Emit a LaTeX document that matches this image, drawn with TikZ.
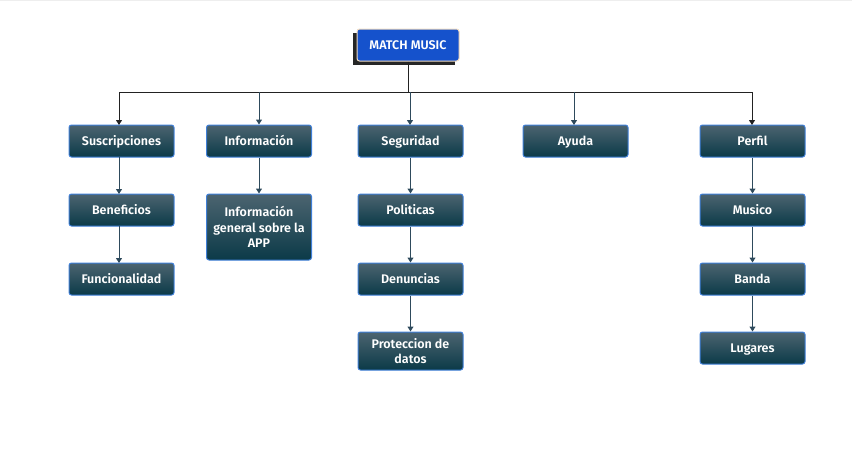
\documentclass[tikz,border=0pt]{standalone}
\usepackage{fontspec}
\setmainfont{Fira Sans}[BoldFont={Fira Sans SemiBold}]
\usetikzlibrary{arrows.meta,shadows}
\definecolor{gtop}{HTML}{4C6470}
\definecolor{gbot}{HTML}{0B3A48}
\definecolor{bbord}{HTML}{3F7FD8}
\definecolor{rootblue}{HTML}{1552CC}
\definecolor{rootbord}{HTML}{F2DCC0}
\definecolor{conn}{HTML}{2E4A5C}
\definecolor{connd}{HTML}{222222}
\definecolor{topline}{HTML}{EEEEEE}
\tikzset{
  box/.style={draw=bbord, line width=1pt, rounded corners=2.5pt, top color=gtop, bottom color=gbot,
    text=white, font=\bfseries\fontsize{12.5}{15.5}\selectfont, minimum width=105pt, minimum height=32pt,
    align=center, inner sep=2pt},
  onebox/.style={box, text height=9pt, text depth=0.5pt},
  rootbox/.style={draw=rootbord, line width=1pt, rounded corners=2.5pt, fill=rootblue,
    text=white, font=\bfseries\fontsize{12.5}{15}\selectfont, minimum width=102pt, minimum height=32pt,
    align=center, inner sep=2pt, text height=9pt, text depth=0.5pt},
  arr/.style={draw=conn, line width=1pt, -{Triangle[width=6pt,length=5pt]}},
  arrd/.style={draw=connd, line width=1pt, -{Triangle[width=6pt,length=5pt]}},
}
\begin{document}
\begin{tikzpicture}[x=1pt,y=-1pt]
\useasboundingbox (0,0) rectangle (852,469);
\fill[topline] (0,0) rectangle (852,1.2);
\fill[black!85] (353,33) rectangle ++(102,32);
\node[rootbox] (root) at (408,45) {MATCH MUSIC};
% level 1
\node[onebox] (sus) at (121.5,141) {Suscripciones};
\node[onebox] (inf) at (259,141) {Información};
\node[onebox] (seg) at (410.5,141) {Seguridad};
\node[onebox] (ayu) at (575.5,141) {Ayuda};
\node[onebox] (per) at (752.5,141) {Perfil};
% level 2
\node[onebox] (ben) at (121.5,210) {Beneficios};
\node[box, minimum height=66pt] (ing) at (259,227) {Información\\general sobre la\\APP};
\node[onebox] (pol) at (410.5,210) {Politicas};
\node[onebox] (mus) at (752.5,210) {Musico};
% level 3
\node[onebox] (fun) at (121.5,279) {Funcionalidad};
\node[onebox] (den) at (410.5,279) {Denuncias};
\node[onebox] (ban) at (752.5,279) {Banda};
% level 4
\node[box, minimum height=38pt] (pro) at (410.5,351) {Proteccion de\\datos};
\node[onebox] (lug) at (752.5,348) {Lugares};
% connectors
\coordinate (hub) at (408,92);
\draw[connd, line width=1pt] (root.south) -- (hub);
\draw[connd, line width=1pt] (119,92) -- (752,92);
\draw[arrd] (119,92) -- (119,125);
\draw[arrd] (752,92) -- (752,125);
\draw[arr] (259,92) -- (inf.north);
\draw[arr] (410,92) -- (410,125);
\draw[arr] (574,92) -- (574,125);
\draw[arr] (119,157) -- (119,194);
\draw[arr] (inf.south) -- (ing.north);
\draw[arr] (seg.south) -- (pol.north);
\draw[arr] (per.south) -- (mus.north);
\draw[arr] (119,226) -- (119,263);
\draw[arr] (pol.south) -- (den.north);
\draw[arr] (mus.south) -- (ban.north);
\draw[arr] (den.south) -- (pro.north);
\draw[arr] (ban.south) -- (lug.north);
\end{tikzpicture}
\end{document}
